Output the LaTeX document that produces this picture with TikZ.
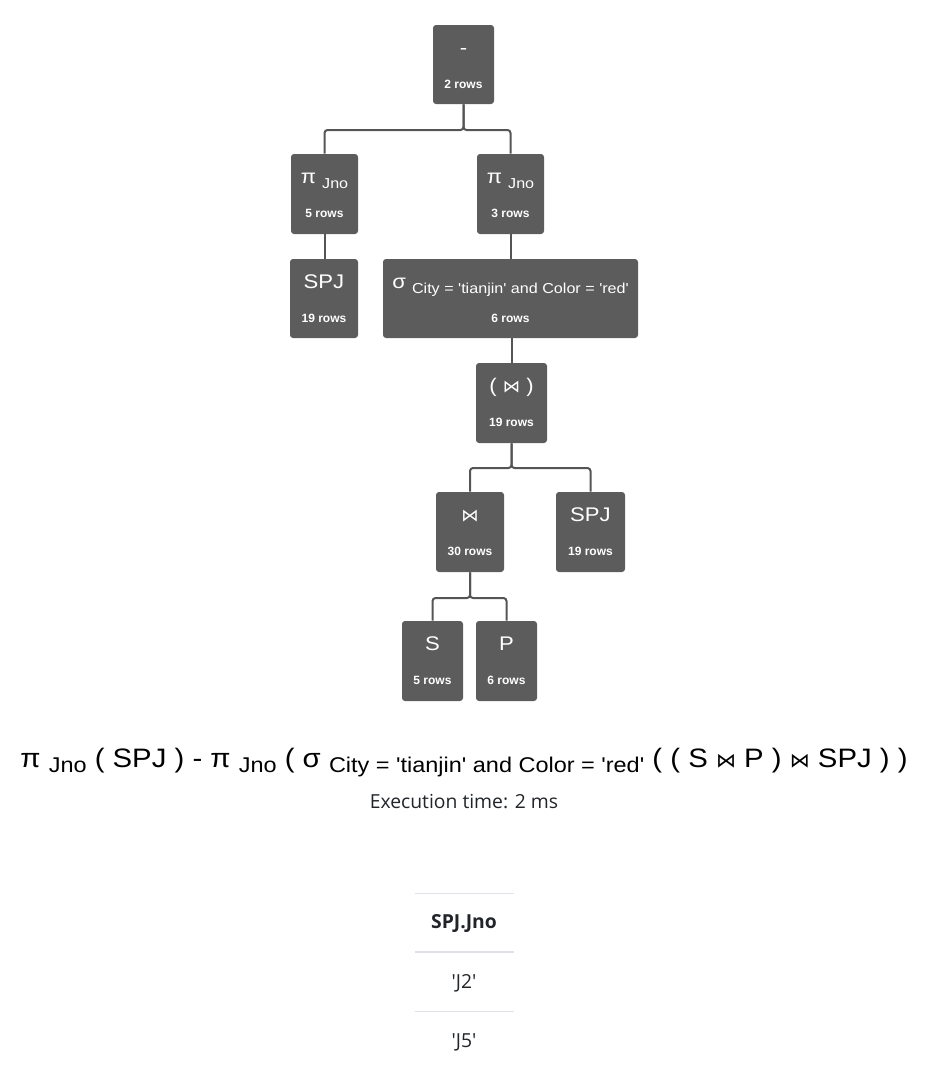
\documentclass[tikz,border=0pt]{standalone}
\usepackage{fontspec}
\setmainfont{Liberation Sans}[Ligatures=TeXOff]
\newfontfamily\ttl{Liberation Sans}[FakeStretch=1.12]
\newfontfamily\frm{Liberation Sans}[FakeStretch=1.1]
\newfontfamily\dejavu{DejaVu Sans}
\newfontfamily\uifont{Open Sans}
\usetikzlibrary{backgrounds}
\definecolor{boxgray}{HTML}{5C5C5C}
\definecolor{linegray}{HTML}{555555}
\definecolor{rulegray}{HTML}{DEE2E6}
\definecolor{txt}{HTML}{212529}
\newcommand\bowtiesym{{\dejavu\fontsize{13}{14}\selectfont ⋈}}
\newcommand\fbowtie{{\dejavu\fontsize{15}{17}\selectfont ⋈}}
\newcommand\opsub[1]{\raisebox{-3.75pt}{\fontsize{10.8}{12}\selectfont #1}}
\newcommand\fsub[1]{\raisebox{-4pt}{\fontsize{16}{18}\selectfont #1}}
\newcommand\opbox[7]{%
  \node[box, minimum width={(#4-#2)*0.75pt}, minimum height={(#5-#3)*0.75pt}] (#1) at ({(#2+#4)/2},{(#3+#5)/2}) {};
  \node[titletxt] (#1-title) at ({(#2+#4)/2},#3+29) {#6};
  \node[rowstxt] (#1-rows) at ({(#2+#4)/2},#3+63.5) {#7 rows};
}
\begin{document}
\begin{tikzpicture}[x=0.75pt,y=-0.75pt,
  box/.style={fill=boxgray, rounded corners=2.25pt, inner sep=0pt, draw=none},
  titletxt/.style={anchor=base, inner sep=0pt, text=white, font=\ttl\fontsize{14.8}{18}\selectfont},
  rowstxt/.style={anchor=base, inner sep=0pt, text=white, font=\bfseries\fontsize{9}{11}\selectfont},
  conn/.style={draw=linegray, line width=1.5pt, rounded corners=2.25pt},
  rulethin/.style={draw=rulegray, line width=0.75pt},
  rulethick/.style={draw=rulegray, line width=1.5pt},
  celltxt/.style={anchor=base, inner sep=0pt, text=txt, font=\uifont\fontsize{14.5}{17}\selectfont}
]
\useasboundingbox (0,0) rectangle (942,1068);

\coordinate (h1) at (0,130);
\coordinate (h2) at (0,468);
\coordinate (h3) at (0,598);

\opbox{diff}{433}{25}{494}{104}{-}{2}
\opbox{pl}{291}{154}{358}{234}{π \opsub{Jno}}{5}
\opbox{pr}{477}{154}{544}{234}{π \opsub{Jno}}{3}
\opbox{spj1}{290}{259}{358}{338}{SPJ}{19}
\opbox{sel}{383}{259}{638}{338}{σ \opsub{City = 'tianjin' and Color = 'red'}}{6}
\opbox{join1}{476}{363}{547}{443}{( \bowtiesym\ )}{19}
\opbox{join2}{436}{492}{504}{572}{\bowtiesym}{30}
\opbox{spj2}{556}{492}{625}{572}{SPJ}{19}
\opbox{s}{402}{621}{463}{701}{S}{5}
\opbox{p}{476}{621}{537}{701}{P}{6}

\begin{scope}[on background layer]
\draw[conn] (diff.south) -- (diff.south |- h1) -| (pl.north);
\draw[conn] (diff.south) -- (diff.south |- h1) -| (pr.north);
\draw[conn] (pl.south) -- (pl.south |- spj1.north);
\draw[conn] (pr.south) -- (pr.south |- sel.north);
\draw[conn] (join1.north |- sel.south) -- (join1.north);
\draw[conn] (join1.south) -- (join1.south |- h2) -| (join2.north);
\draw[conn] (join1.south) -- (join1.south |- h2) -| (spj2.north);
\draw[conn] (join2.south) -- (join2.south |- h3) -| (s.north);
\draw[conn] (join2.south) -- (join2.south |- h3) -| (p.north);
\end{scope}

\node[anchor=base, inner sep=0pt, text=black, font=\frm\fontsize{20}{24}\selectfont] (formula) at (464,767)
  {π \fsub{Jno} ( SPJ ) - π \fsub{Jno} ( σ \fsub{City = 'tianjin' and Color = 'red'} ( ( S \fbowtie\ P ) \fbowtie\ SPJ ) )};
\node[anchor=base, inner sep=0pt, text=txt, font=\uifont\fontsize{14.5}{17}\selectfont] (exec) at (464,808) {Execution time: 2 ms};

\draw[rulethin] (415,893) -- (514,893);
\node[celltxt, font=\uifont\bfseries\fontsize{14.5}{17}\selectfont] (hdr) at (464,928) {SPJ.Jno};
\draw[rulethick] (415,952) -- (514,952);
\node[celltxt] (r1) at (464,988) {'J2'};
\draw[rulethin] (415,1011) -- (514,1011);
\node[celltxt] (r2) at (464,1047) {'J5'};
\end{tikzpicture}
\end{document}
